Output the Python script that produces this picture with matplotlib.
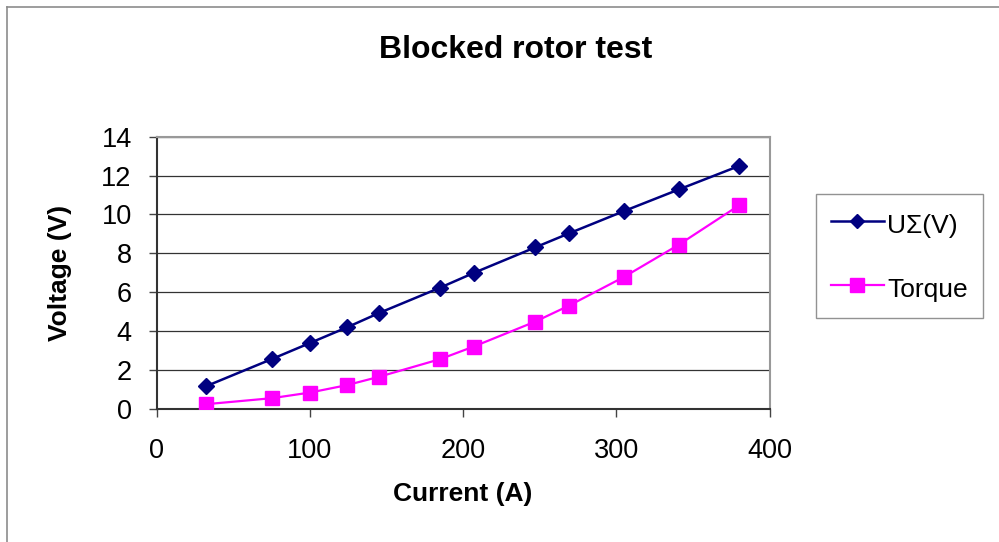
import matplotlib
matplotlib.use("Agg")
import matplotlib.pyplot as plt
from matplotlib.lines import Line2D

# blocked rotor test readings
current = [32, 75, 100, 124, 145, 185, 207, 247, 269, 305, 341, 380]
u_sigma = [1.15, 2.55, 3.38, 4.18, 4.92, 6.23, 6.99, 8.30, 9.02, 10.17, 11.29, 12.49]
torque = [0.23, 0.54, 0.83, 1.21, 1.64, 2.55, 3.20, 4.48, 5.30, 6.78, 8.45, 10.46]

x_ticks = [0, 100, 200, 300, 400]
y_ticks = [0, 2, 4, 6, 8, 10, 12, 14]

plt.rcParams["font.family"] = ["Liberation Sans", "DejaVu Sans"]

W, H = 999, 542
fig = plt.figure(figsize=(W / 100, H / 100), dpi=100)

# outer chart border (only left and top visible in the crop)
fig.add_artist(Line2D([7 / W, 7 / W], [0, 1 - 7 / H], color="#8c8c8c", lw=1.2))
fig.add_artist(Line2D([7 / W, 1], [1 - 7 / H, 1 - 7 / H], color="#8c8c8c", lw=1.2))

ax = fig.add_axes([156.7 / W, (H - 408.7) / H, (769.5 - 156.7) / W, (408.7 - 136.7) / H])

ax.plot(current, u_sigma, color="#000080", lw=1.8, marker="D", ms=8,
        label="UΣ(V)", zorder=3)
ax.plot(current, torque, color="#ff00ff", lw=1.6, marker="s", ms=10.5,
        label="Torque", zorder=3)

ax.set_xlim(0, 400)
ax.set_ylim(0, 14)
ax.set_xticks(x_ticks)
ax.set_yticks(y_ticks)
ax.tick_params(labelsize=19.5, direction="out", length=6, width=1, color="#444444")
ax.tick_params(axis="x", pad=15)
ax.tick_params(axis="y", pad=12)
ax.yaxis.grid(True, color="#333333", lw=0.9)
ax.set_axisbelow(True)

ax.spines["left"].set_color("#333333")
ax.spines["bottom"].set_color("#333333")
ax.spines["left"].set_linewidth(1.5)
ax.spines["bottom"].set_linewidth(1.5)
ax.spines["top"].set_color("#999999")
ax.spines["right"].set_color("#999999")
ax.spines["top"].set_linewidth(1.5)
ax.spines["right"].set_linewidth(1.5)

ax.set_xlabel("Current (A)", fontsize=19, fontweight="bold", labelpad=13)
ax.set_ylabel("Voltage (V)", fontsize=19, fontweight="bold", labelpad=21)

fig.text(516 / W, 1 - 50 / H, "Blocked rotor test", fontsize=23, fontweight="bold",
         ha="center", va="center")

leg = fig.legend(loc="upper left", bbox_to_anchor=(815.7 / W, 1 - 194 / H),
                 fontsize=19, frameon=True, fancybox=False, edgecolor="#777777",
                 borderpad=0.57, labelspacing=1.3, handlelength=2.0, handleheight=1.36,
                 handletextpad=0.15, markerscale=0.9, borderaxespad=0)
leg.get_frame().set_linewidth(1.0)

fig.savefig("out.png", dpi=100)
